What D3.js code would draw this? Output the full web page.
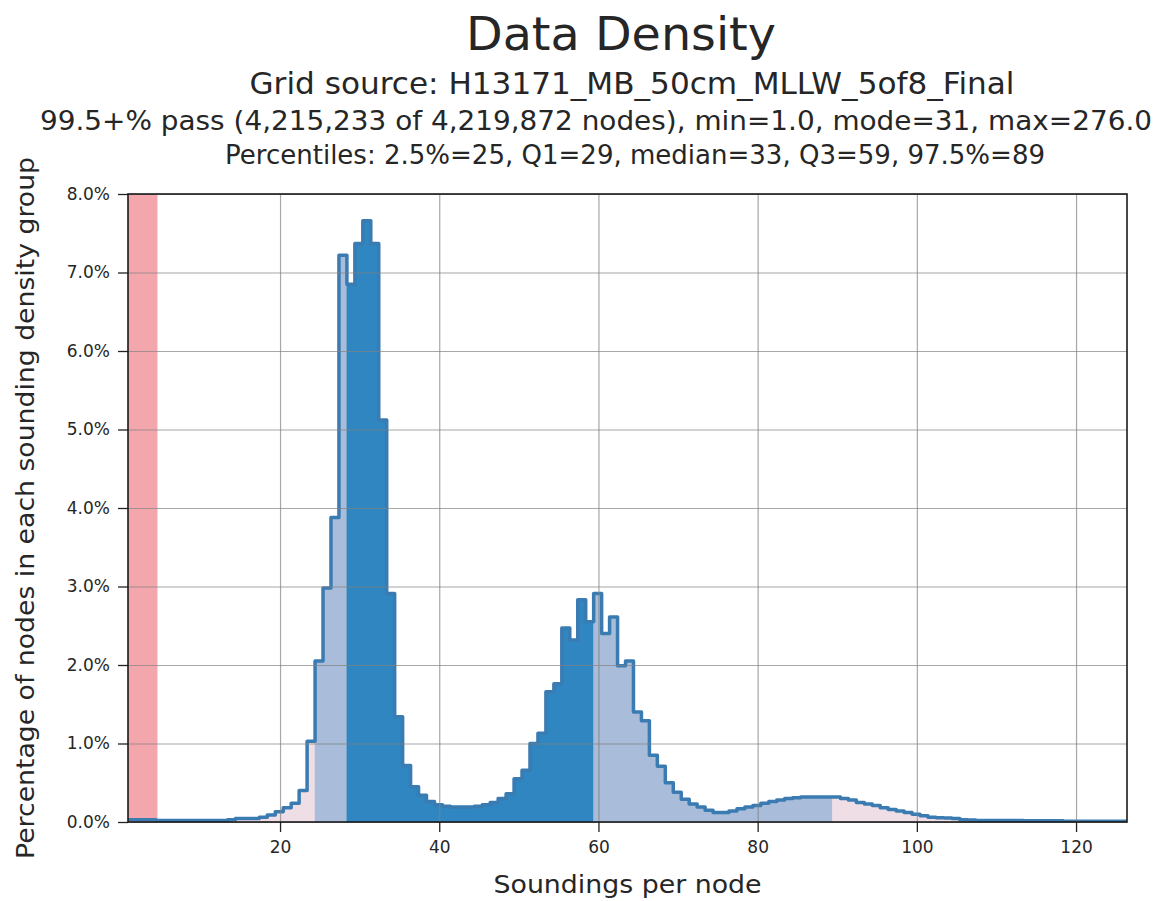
<!DOCTYPE html>
<html>
<head>
<meta charset="utf-8">
<script src="https://cdn.jsdelivr.net/npm/d3@7"></script>
<style>
  body { margin: 0; background: #fff; }
  text { font-family: "DejaVu Sans", sans-serif; fill: #262626; }
</style>
</head>
<body>
<div id="chart"></div>
<script>
// DATA
// percentage of nodes for each sounding count, starting at 1 sounding per node
const firstSounding = 1;
const percentages = [
    0.03, 0.03, 0.03, 0.03, 0.02, 0.02, 0.02, 0.02, 0.02, 0.02,   // 1-10
    0.02, 0.02, 0.02, 0.03, 0.045, 0.045, 0.045, 0.06, 0.09, 0.13, // 11-20
    0.18, 0.24, 0.40, 1.03, 2.05, 2.98, 3.88, 7.22, 6.85, 7.37,    // 21-30
    7.66, 7.37, 5.12, 2.91, 1.34, 0.72, 0.45, 0.34, 0.26, 0.22,    // 31-40
    0.20, 0.19, 0.19, 0.19, 0.20, 0.22, 0.25, 0.30, 0.36, 0.55,    // 41-50
    0.66, 1.00, 1.13, 1.66, 1.76, 2.47, 2.32, 2.83, 2.55, 2.91,    // 51-60
    2.40, 2.61, 1.99, 2.05, 1.40, 1.29, 0.85, 0.71, 0.50, 0.38,    // 61-70
    0.29, 0.23, 0.19, 0.15, 0.12, 0.12, 0.14, 0.17, 0.19, 0.21,    // 71-80
    0.24, 0.26, 0.28, 0.30, 0.31, 0.32, 0.32, 0.32, 0.32, 0.32,    // 81-90
    0.30, 0.28, 0.25, 0.23, 0.21, 0.18, 0.16, 0.14, 0.12, 0.10,    // 91-100
    0.08, 0.06, 0.055, 0.05, 0.045, 0.03, 0.025, 0.02, 0.02, 0.02, // 101-110
    0.02, 0.02, 0.02, 0.015, 0.015, 0.015, 0.015, 0.015, 0.01, 0.01, // 111-120
    0.01, 0.01, 0.01, 0.01, 0.01, 0.01, 0.01, 0.01                 // 121-128
];
// percentile values: 2.5%, Q1, Q3, 97.5%
const percentileCuts = [25, 29, 59, 89];
const failLimit = 4.6;   // red band = nodes failing the density check
const xTicks = [20, 40, 60, 80, 100, 120];
const yTicks = [0, 1, 2, 3, 4, 5, 6, 7, 8];
const titleText = 'Data Density';
const subtitleLines = [
    'Grid source: H13171_MB_50cm_MLLW_5of8_Final',
    '99.5+% pass (4,215,233 of 4,219,872 nodes), min=1.0, mode=31, max=276.0',
    'Percentiles: 2.5%=25, Q1=29, median=33, Q3=59, 97.5%=89'
];
const xLabel = 'Soundings per node';
const yLabel = 'Percentage of nodes in each sounding density group';

// FIGURE DIMENSIONS
const FIGURE = { WIDTH: 1157, HEIGHT: 901 };
const MARGINS = { LEFT: 128, TOP: 194, RIGHT: 30, BOTTOM: 79 };
const PLOT = {
    WIDTH: FIGURE.WIDTH - MARGINS.LEFT - MARGINS.RIGHT,
    HEIGHT: FIGURE.HEIGHT - MARGINS.TOP - MARGINS.BOTTOM
};
const BIN_SHIFT = -0.6;   // left edge of each bin relative to its value

const COLORS = {
    outside: '#f0dee7',
    inner: '#a9bcd9',
    core: '#2f86c0',
    outline: '#3a7bb2',
    fail: '#f4a6ad',
    grid: 'rgba(130,130,130,0.7)'
};

const bins = percentages.map((p, i) => ({ value: firstSounding + i, pct: p }));

function band(v) {
    if (v < percentileCuts[0] || v > percentileCuts[3]) return 'outside';
    if (v < percentileCuts[1] || v > percentileCuts[2]) return 'inner';
    return 'core';
}

// Scales
const x = d3.scaleLinear().domain([0.9, 126.4]).range([0, PLOT.WIDTH]);
const y = d3.scaleLinear().domain([0, 8]).range([PLOT.HEIGHT, 0]);

const svg = d3.select('#chart').append('svg')
    .attr('width', FIGURE.WIDTH)
    .attr('height', FIGURE.HEIGHT);

svg.append('defs').append('clipPath').attr('id', 'plotClip')
    .append('rect').attr('width', PLOT.WIDTH).attr('height', PLOT.HEIGHT);

const plot = svg.append('g')
    .attr('transform', `translate(${MARGINS.LEFT}, ${MARGINS.TOP})`);

const inner = plot.append('g').attr('clip-path', 'url(#plotClip)');

// group consecutive bins sharing a colour band
const segments = [];
bins.forEach(b => {
    const key = band(b.value);
    const last = segments[segments.length - 1];
    if (last && last.key === key) last.bins.push(b);
    else segments.push({ key: key, bins: [b] });
});

const area = d3.area()
    .curve(d3.curveStepAfter)
    .x(d => x(d.edge))
    .y0(y(0))
    .y1(d => y(d.pct));

segments.forEach(s => {
    const pts = s.bins.map(b => ({ edge: b.value + BIN_SHIFT, pct: b.pct }));
    const lastBin = s.bins[s.bins.length - 1];
    pts.push({ edge: lastBin.value + BIN_SHIFT + 1, pct: lastBin.pct });
    inner.append('path')
        .datum(pts)
        .attr('d', area)
        .attr('fill', COLORS[s.key])
        .attr('stroke', COLORS[s.key])
        .attr('stroke-width', 0.6);
});

// grid
plot.append('g')
    .attr('class', 'grid')
    .attr('transform', `translate(0, ${PLOT.HEIGHT})`)
    .call(d3.axisBottom(x).tickValues(xTicks).tickSize(-PLOT.HEIGHT).tickFormat(''))
    .call(g => g.select('.domain').remove())
    .call(g => g.selectAll('line').attr('stroke', COLORS.grid).attr('stroke-width', 1.2));

plot.append('g')
    .attr('class', 'grid')
    .call(d3.axisLeft(y).tickValues(yTicks).tickSize(-PLOT.WIDTH).tickFormat(''))
    .call(g => g.select('.domain').remove())
    .call(g => g.selectAll('line').attr('stroke', COLORS.grid).attr('stroke-width', 1.2));

// failing region
inner.append('rect')
    .attr('x', x(x.domain()[0]))
    .attr('y', 0)
    .attr('width', x(failLimit) - x(x.domain()[0]))
    .attr('height', PLOT.HEIGHT)
    .attr('fill', COLORS.fail);

// step outline
const outlinePts = [{ edge: bins[0].value + BIN_SHIFT, pct: 0 }];
bins.forEach(b => {
    outlinePts.push({ edge: b.value + BIN_SHIFT, pct: b.pct });
    outlinePts.push({ edge: b.value + BIN_SHIFT + 1, pct: b.pct });
});
inner.append('path')
    .datum(outlinePts)
    .attr('d', d3.line().x(d => x(d.edge)).y(d => y(d.pct)))
    .attr('fill', 'none')
    .attr('stroke', COLORS.outline)
    .attr('stroke-width', 3.5)
    .attr('stroke-linejoin', 'round');

// axes
const xAxis = plot.append('g')
    .attr('transform', `translate(0, ${PLOT.HEIGHT})`)
    .call(d3.axisBottom(x).tickValues(xTicks).tickSize(10).tickPadding(9));
const yAxis = plot.append('g')
    .call(d3.axisLeft(y).tickValues(yTicks).tickSize(10).tickPadding(8)
        .tickFormat(d => d.toFixed(1) + '%'));

[xAxis, yAxis].forEach(a => {
    a.select('.domain').remove();
    a.selectAll('line').attr('stroke', '#222').attr('stroke-width', 1.3);
    a.selectAll('text')
        .style('font-family', '"DejaVu Sans", sans-serif')
        .style('font-size', '17px')
        .attr('fill', '#2a2a2a');
});

plot.append('rect')
    .attr('width', PLOT.WIDTH)
    .attr('height', PLOT.HEIGHT)
    .attr('fill', 'none')
    .attr('stroke', '#1a1a1a')
    .attr('stroke-width', 1.6);

// titles
svg.append('text')
    .attr('x', 621).attr('y', 50)
    .attr('text-anchor', 'middle')
    .style('font-size', '46px')
    .attr('textLength', 310).attr('lengthAdjust', 'spacingAndGlyphs')
    .text(titleText);

const subtitleSpecs = [
    { x: 632, y: 94, size: 30, len: 765 },
    { x: 596, y: 130, size: 26, len: 1112 },
    { x: 635, y: 164, size: 26, len: 820 }
];
subtitleLines.forEach((t, i) => {
    const s = subtitleSpecs[i];
    svg.append('text')
        .attr('x', s.x).attr('y', s.y)
        .attr('text-anchor', 'middle')
        .style('font-size', s.size + 'px')
        .attr('textLength', s.len).attr('lengthAdjust', 'spacingAndGlyphs')
        .text(t);
});

svg.append('text')
    .attr('x', MARGINS.LEFT + PLOT.WIDTH / 2).attr('y', 893)
    .attr('text-anchor', 'middle')
    .style('font-size', '25px')
    .attr('textLength', 268).attr('lengthAdjust', 'spacingAndGlyphs')
    .text(xLabel);

svg.append('text')
    .attr('transform', `translate(34, ${MARGINS.TOP + PLOT.HEIGHT / 2}) rotate(-90)`)
    .attr('text-anchor', 'middle')
    .style('font-size', '25px')
    .attr('textLength', 702).attr('lengthAdjust', 'spacingAndGlyphs')
    .text(yLabel);
</script>
</body>
</html>
